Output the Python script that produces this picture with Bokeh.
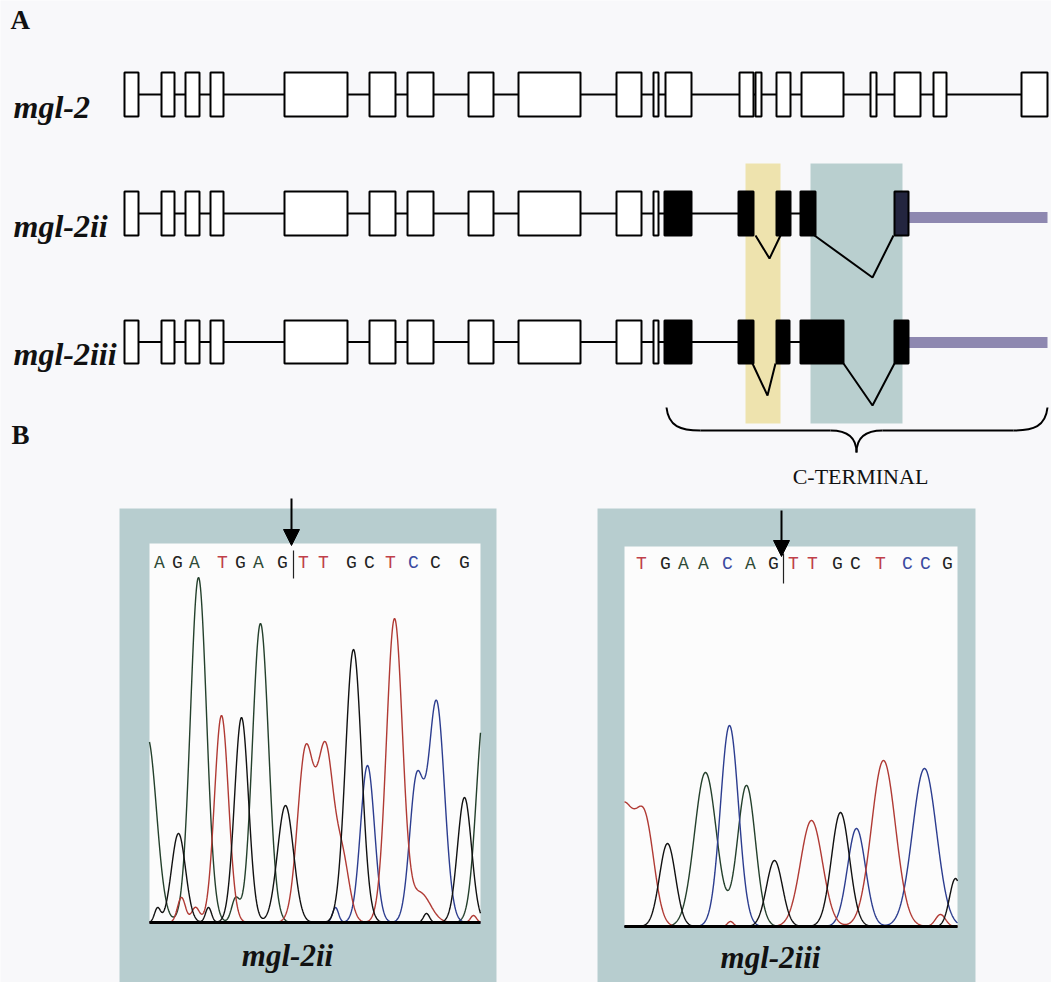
import numpy as np
from bokeh.plotting import figure
from bokeh.models import Range1d, Arrow, NormalHead
from bokeh.core.properties import value
from bokeh.embed import file_html
from bokeh.resources import INLINE

# ---------------- DATA ----------------
# Panel A: exon coordinates (drawing units along the gene)
row_labels = ["mgl-2", "mgl-2ii", "mgl-2iii"]

mgl2_start = [124, 161, 185, 210, 284, 369, 407, 468, 518, 616, 653, 665, 739, 755, 776, 801, 870, 894, 933, 1021]
mgl2_end   = [138, 174, 199, 223, 347, 395, 433, 493, 580, 641, 658, 691, 753, 761, 790, 843, 876, 920, 946, 1047]
mgl2_kind  = [0] * 20
mgl2_link  = ["line"] * 19

mgl2ii_start = [124, 161, 185, 210, 284, 369, 407, 468, 518, 616, 653, 664, 738, 776, 800, 894]
mgl2ii_end   = [138, 174, 199, 223, 347, 395, 433, 493, 580, 641, 658, 691, 753, 790, 815, 908]
mgl2ii_kind  = [0] * 11 + [1, 1, 1, 1, 2]
mgl2ii_link  = ["line"] * 12 + ["splice", "line", "splice"]
mgl2ii_splice_left = [755, 814]
mgl2ii_splice_apex = [769, 872]
mgl2ii_splice_right = [780, 893]
mgl2ii_splice_depth = [23, 42]

mgl2iii_start = [124, 161, 185, 210, 284, 369, 407, 468, 518, 616, 653, 664, 738, 776, 800, 894]
mgl2iii_end   = [138, 174, 199, 223, 347, 395, 433, 493, 580, 641, 658, 691, 753, 789, 843, 908]
mgl2iii_kind  = [0] * 11 + [1, 1, 1, 1, 1]
mgl2iii_link  = ["line"] * 12 + ["splice", "line", "splice"]
mgl2iii_splice_left = [752, 843]
mgl2iii_splice_apex = [767, 872]
mgl2iii_splice_right = [775, 894]
mgl2iii_splice_depth = [32, 42]

utr_start = [908, 908]
utr_end = [1047, 1047]

band_left = [745, 810]
band_right = [780, 902]

# Panel B: base calls and chromatogram peaks
left_seq = list("AGATGAGTTGCTCCG")
left_seq_pos = [159, 177, 194, 222, 240, 258, 282, 303, 323, 351, 369, 390, 413, 435, 464]
left_seq_col = ["A", "G", "A", "T", "G", "A", "G", "T", "T", "G", "N", "T", "C", "N", "G"]

right_seq = list("TGAACAGTTGCTCCG")
right_seq_pos = [641, 665, 683, 703, 727, 750, 773, 793, 812, 837, 855, 880, 907, 925, 947]
right_seq_col = ["T", "G", "A", "A", "C", "A", "G", "T", "T", "G", "N", "T", "C", "C", "G"]

left_peak_pos    = [147, 178, 198, 181, 195, 157, 208, 221, 241, 260, 285, 305, 325, 342, 235, 353, 367, 394, 420, 416, 436, 464, 484, 335, 426, 473]
left_peak_height = [185, 89, 345, 25, 15, 14, 15, 207, 205, 299, 117, 170, 170, 60, 23, 273, 157, 303, 29, 140, 220, 125, 215, 15, 9, 7]
left_peak_width  = [9, 7, 8, 4, 4, 3, 3, 7, 7, 8, 8, 8, 8, 7, 4, 8, 7, 8, 10, 7, 8, 7, 8, 3, 3, 3]
left_peak_base   = ["A", "G", "A", "T", "T", "G", "G", "T", "G", "A", "G", "T", "T", "T", "A", "G", "C", "T", "T", "C", "C", "G", "A", "C", "G", "T"]

right_peak_pos    = [622, 645, 667, 705, 729, 746, 774, 811, 840, 856, 883, 924, 955, 940, 730]
right_peak_height = [120, 95, 83, 154, 201, 141, 66, 106, 114, 98, 166, 158, 48, 12, 5]
right_peak_width  = [12, 9, 8, 11, 9, 9, 8, 11, 9, 9, 12, 12, 6, 5, 3]
right_peak_base   = ["T", "T", "G", "A", "C", "A", "G", "T", "G", "C", "T", "C", "G", "T", "T"]

# ---------------- STYLE ----------------
BG = "#F8F8FA"
BASE_COL = {"A": "#24402c", "C": "#2c3d8f", "G": "#111111", "T": "#b03a34", "N": "#222222"}
SEQ_COL = {"A": "#2d4a35", "C": "#3a4aa0", "G": "#222222", "T": "#c0404a", "N": "#222222"}
SERIF = value("Liberation Serif")

W, H = 1051, 982
p = figure(width=W, height=H, x_range=Range1d(0, W), y_range=Range1d(H, 0),
           output_backend="svg", toolbar_location=None, min_border=0,
           x_axis_type=None, y_axis_type=None)
p.xgrid.visible = False
p.ygrid.visible = False
p.outline_line_color = None
p.background_fill_color = BG
p.border_fill_color = BG

# ---- Panel A ----
p.text(x=[10], y=[34], text=["A"], text_font=SERIF, text_font_style="bold",
       text_font_size="27px", text_color="#111111")

row_top = [72, 191, 320]
row_bot = [116, 235, 363]
utr_y = [None, 217, 342]

p.quad(left=band_left, right=band_right, top=[163, 163], bottom=[423, 423],
       fill_color=["#EEE3AE", "#B9CFCF"], line_color=None)

rows = [
    (mgl2_start, mgl2_end, mgl2_kind, mgl2_link, None),
    (mgl2ii_start, mgl2ii_end, mgl2ii_kind, mgl2ii_link,
     (mgl2ii_splice_left, mgl2ii_splice_apex, mgl2ii_splice_right, mgl2ii_splice_depth)),
    (mgl2iii_start, mgl2iii_end, mgl2iii_kind, mgl2iii_link,
     (mgl2iii_splice_left, mgl2iii_splice_apex, mgl2iii_splice_right, mgl2iii_splice_depth)),
]
kind_fill = {0: "white", 1: "black", 2: "#23253f"}

for r, (st, en, kind, link, spl) in enumerate(rows):
    cy = (row_top[r] + row_bot[r]) / 2
    xs0, xs1 = [], []
    for i, lk in enumerate(link):
        if lk == "line":
            xs0.append(en[i]); xs1.append(st[i + 1])
    p.segment(x0=xs0, y0=[cy] * len(xs0), x1=xs1, y1=[cy] * len(xs0),
              line_color="black", line_width=2)
    if spl is not None:
        sl, sa, sr, sd = spl
        for a, b, c, d in zip(sl, sa, sr, sd):
            p.line([a, b, c], [row_bot[r], row_bot[r] + d, row_bot[r]],
                   line_color="black", line_width=2)
    if utr_y[r] is not None:
        p.quad(left=[utr_start[r - 1]], right=[utr_end[r - 1]],
               top=[utr_y[r] - 5.5], bottom=[utr_y[r] + 5.5],
               fill_color="#8E88B0", line_color=None)
    p.quad(left=st, right=en, top=[row_top[r]] * len(st), bottom=[row_bot[r]] * len(st),
           fill_color=[kind_fill[k] for k in kind], line_color="black", line_width=2)
    p.text(x=[13], y=[cy + 12], text=[row_labels[r]], text_font=SERIF,
           text_font_style="bold italic", text_font_size="32px", text_color="#111111",
           text_baseline="alphabetic")

# brace
p.bezier(x0=[666], y0=[407], x1=[700], y1=[430], cx0=[668], cy0=[426], cx1=[680], cy1=[430],
         line_color="black", line_width=2)
p.segment(x0=[700], y0=[430], x1=[830], y1=[430], line_color="black", line_width=2)
p.bezier(x0=[830], y0=[430], x1=[856], y1=[452], cx0=[850], cy0=[430], cx1=[856], cy1=[440],
         line_color="black", line_width=2)
p.bezier(x0=[856], y0=[452], x1=[882], y1=[430], cx0=[856], cy0=[440], cx1=[862], cy1=[430],
         line_color="black", line_width=2)
p.segment(x0=[882], y0=[430], x1=[1013], y1=[430], line_color="black", line_width=2)
p.bezier(x0=[1013], y0=[430], x1=[1047], y1=[407], cx0=[1033], cy0=[430], cx1=[1045], cy1=[426],
         line_color="black", line_width=2)
p.text(x=[860], y=[476], text=["C-TERMINAL"], text_font=SERIF, text_font_size="22px",
       text_align="center", text_baseline="middle", text_color="#111111")

# ---- Panel B ----
p.text(x=[11], y=[449], text=["B"], text_font=SERIF, text_font_style="bold",
       text_font_size="27px", text_color="#111111")

panels = [
    dict(outer=(119, 496, 508), inner=(149, 480, 543, 922), seq=left_seq, pos=left_seq_pos,
         col=left_seq_col, seq_y=562, arrow_x=291, arrow_y=(498, 545), cursor=(293, 550, 578),
         peaks=(left_peak_pos, left_peak_height, left_peak_width, left_peak_base),
         label="mgl-2ii", label_x=287, label_y=955),
    dict(outer=(597, 975, 508), inner=(624, 957, 546, 926), seq=right_seq, pos=right_seq_pos,
         col=right_seq_col, seq_y=563, arrow_x=781, arrow_y=(510, 556), cursor=(783, 553, 583),
         peaks=(right_peak_pos, right_peak_height, right_peak_width, right_peak_base),
         label="mgl-2iii", label_x=770, label_y=957),
]

for pn in panels:
    ox0, ox1, oy0 = pn["outer"]
    ix0, ix1, iy0, iy1 = pn["inner"]
    p.quad(left=[ox0], right=[ox1], top=[oy0], bottom=[H + 5], fill_color="#B7CDCF", line_color=None)
    p.quad(left=[ix0], right=[ix1], top=[iy0], bottom=[iy1], fill_color="#FCFCFC", line_color=None)
    pos, hgt, wid, base = pn["peaks"]
    xg = np.linspace(ix0, ix1, 800)
    for b in ["A", "C", "T", "G"]:
        yv = np.zeros_like(xg)
        for c, h, w, bb in zip(pos, hgt, wid, base):
            if bb == b:
                yv += h * np.exp(-((xg - c) ** 2) / (2 * w * w))
        p.line(xg, iy1 - yv, line_color=BASE_COL[b], line_width=1.4)
    p.segment(x0=[ix0], y0=[iy1], x1=[ix1], y1=[iy1], line_color="black", line_width=3)
    cx, cy0, cy1 = pn["cursor"]
    p.segment(x0=[cx], y0=[cy0], x1=[cx], y1=[cy1], line_color="#222222", line_width=1.2)
    p.text(x=pn["pos"], y=[pn["seq_y"]] * len(pn["pos"]), text=pn["seq"],
           text_color=[SEQ_COL[c] for c in pn["col"]], text_font=value("Liberation Mono"),
           text_font_size="18px", text_align="center", text_baseline="middle")
    ay0, ay1 = pn["arrow_y"]
    p.add_layout(Arrow(end=NormalHead(size=16, fill_color="black", line_color="black"),
                       x_start=pn["arrow_x"], y_start=ay0, x_end=pn["arrow_x"], y_end=ay1,
                       line_color="black", line_width=2))
    p.text(x=[pn["label_x"]], y=[pn["label_y"]], text=[pn["label"]], text_font=SERIF,
           text_font_style="bold italic", text_font_size="31px", text_align="center",
           text_baseline="alphabetic", text_color="#111111")

open("out.html", "w").write(file_html(p, INLINE))
